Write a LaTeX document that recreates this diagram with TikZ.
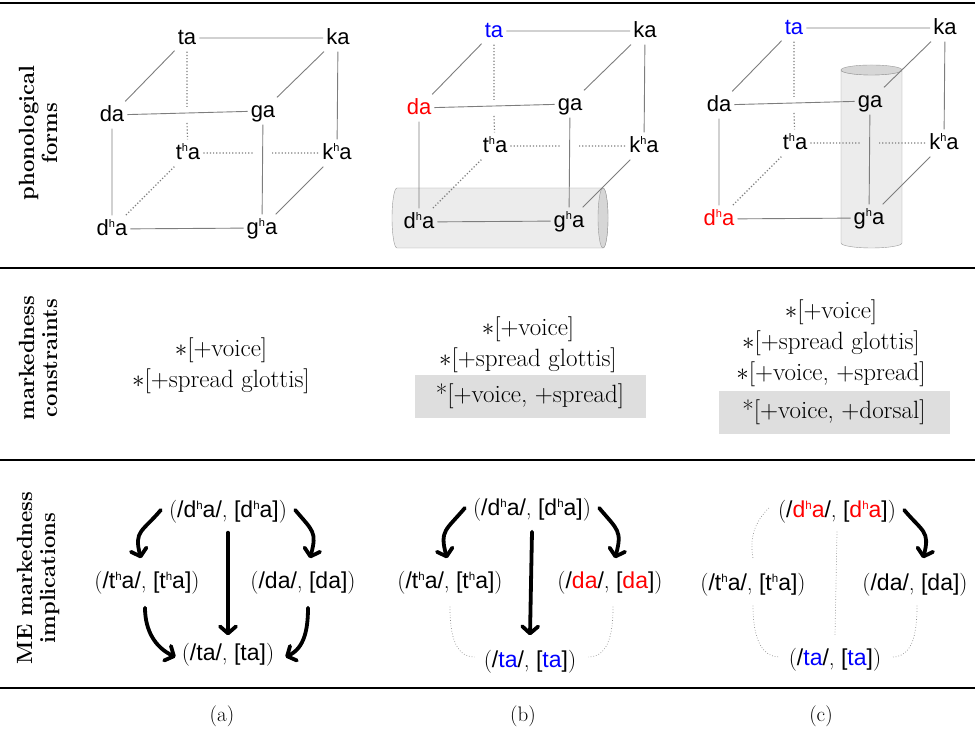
\documentclass[tikz,border=0pt]{standalone}
\usepackage{amsmath}
\usepackage{fontspec}
\newfontfamily\sans{Liberation Sans}
\usepackage{xcolor}
\usepackage{tikz}
\usetikzlibrary{arrows.meta,positioning,calc,backgrounds}
\definecolor{EdgeGray}{RGB}{125,125,125}
\definecolor{CylBody}{RGB}{236,236,236}
\definecolor{CylEnd}{RGB}{214,214,214}
\definecolor{BoxGray}{RGB}{222,222,222}
\newcommand{\asp}{\raisebox{0.36em}{\scalebox{0.5}{h}}}
\newcommand{\pr}[2]{{\rmfamily(}/#1/{\rmfamily,} [#2]{\rmfamily)}}

\begin{document}
\begin{tikzpicture}[x=1pt,y=1pt,
  form/.style={font=\sans\fontsize{22}{26}\selectfont,inner sep=3pt,text height=16.5pt,text depth=4.4pt},
  cubeline/.style={EdgeGray,line width=0.9pt},
  cubehid/.style={EdgeGray,dotted,line width=1.2pt},
  imp/.style={font=\sans\fontsize{23}{27}\selectfont,inner sep=3pt},
  arr/.style={line width=3.8pt,line cap=round,-{Straight Barb[round,length=7pt,width=16pt]}},
  faint/.style={black!45,dotted,line width=0.7pt},
  cons/.style={align=center,font=\fontsize{25}{31}\selectfont},
  conbox/.style={fill=BoxGray,minimum width=231pt,minimum height=43pt,inner sep=0pt,font=\fontsize{25}{31}\selectfont},
  rowlab/.style={rotate=90,align=center,font=\bfseries\fontsize{22}{23}\selectfont},
  tagnode/.style={font=\fontsize{21}{25}\selectfont}]
\useasboundingbox (0,0) rectangle (975,735);
% rules
\draw[line width=2.4pt](0,732)--(975,732);
\draw[line width=1.2pt](0,467)--(975,467);
\draw[line width=1.2pt](0,275)--(975,275);
\draw[line width=2.4pt](0,47)--(975,47);
% row labels
\node[rowlab] (rowform) at (38,602) {phonological\\forms};
\node[rowlab] (rowcons) at (38,377) {markedness\\constraints};
\node[rowlab] (rowimp) at (38,157) {ME markedness\\implications};
% cylinders
\begin{scope}[on background layer]
\draw[draw=black!40,fill=CylBody](603,547)--(397,547) arc[start angle=90,end angle=270,x radius=5,y radius=30]
  --(603,487) arc[start angle=-90,end angle=90,x radius=5,y radius=30]--cycle;
\draw[draw=black!40,fill=CylEnd](603,517) ellipse[x radius=5,y radius=30];
\draw[draw=black!40,fill=CylBody](841,665)--(841,492) arc[start angle=180,end angle=360,x radius=30.5,y radius=5]
  --(902,665) arc[start angle=0,end angle=-180,x radius=30.5,y radius=5]--cycle;
\draw[draw=black!40,fill=CylEnd](871.5,665) ellipse[x radius=30.5,y radius=5];
\end{scope}
% cubes
\foreach \p/\dx/\dy/\cta/\cda/\cdh in {a/0/0/black/black/black,b/307/7/blue/red/black,c/607/10/blue/black/red}{
  \begin{scope}[shift={(\dx,\dy)}]
  \node[form,text=\cta] (ta\p) at (187,697) {ta};
  \node[form] (ka\p) at (338,697) {ka};
  \node[form,text=\cda] (da\p) at (112,620) {da};
  \node[form] (ga\p) at (263,624) {ga};
  \node[form] (tha\p) at (188,582) {t\asp a};
  \node[form] (kha\p) at (337,582) {k\asp a};
  \node[form,text=\cdh] (dha\p) at (112,506) {d\asp a};
  \node[form] (gha\p) at (262,507) {g\asp a};
  \draw[cubeline](ta\p)--(ka\p) (ta\p)--(da\p) (ka\p)--(ga\p) (ka\p)--(kha\p)
    (da\p)--(ga\p) (da\p)--(dha\p) (ga\p)--(gha\p) (dha\p)--(gha\p) (gha\p)--(kha\p);
  \draw[cubehid](ta\p)--($(ta\p |- da\p)+(0,8)$) ($(ta\p |- da\p)+(0,-8)$)--(tha\p)
    (tha\p)--($(ga\p |- tha\p)+(-9,0)$) ($(ga\p |- tha\p)+(9,0)$)--(kha\p)
    (tha\p)--(dha\p);
  \end{scope}
}
% constraints
\node[cons] (consA) at (221,369) {$\ast$[$+$voice]\\$\ast$[$+$spread glottis]};
\node[cons] (consB) at (528,390) {$\ast$[$+$voice]\\$\ast$[$+$spread glottis]};
\node[conbox] (boxB) at (530,338.5) {*[+voice, +spread]};
\node[cons] (consC) at (831,392) {$\ast$[$+$voice]\\$\ast$[$+$spread glottis]\\$\ast$[$+$voice, $+$spread]};
\node[conbox] (boxC) at (834,322.5) {*[+voice, +dorsal]};
% implications (a)
\node[imp] (topA) at (228,223) {\pr{d\asp a}{d\asp a}};
\node[imp] (thaA) at (147,152) {\pr{t\asp a}{t\asp a}};
\node[imp] (daA) at (303,152) {\pr{da}{da}};
\node[imp] (taA) at (228,80) {\pr{ta}{ta}};
\draw[arr]([shift={(-5,2)}]topA.west) to[out=230,in=105,looseness=1.4] ([shift={(-6,10)}]thaA.north);
\draw[arr]([shift={(5,2)}]topA.east) to[out=-50,in=75,looseness=1.4] ([shift={(7,10)}]daA.north);
\draw[arr]([yshift=-6]topA.south)--([yshift=5]taA.north);
\draw[arr]([shift={(-2,-10)}]thaA.south) to[out=-90,in=155] ([shift={(-3,-2)}]taA.west);
\draw[arr]([shift={(5,-10)}]daA.south) to[out=-90,in=25] ([shift={(8,-2)}]taA.east);
% implications (b)
\node[imp] (topB) at (532,225) {\pr{d\asp a}{d\asp a}};
\node[imp] (thaB) at (450,152) {\pr{t\asp a}{t\asp a}};
\node[imp] (daB) at (610,152) {\pr{\textcolor{red}{da}}{\textcolor{red}{da}}};
\node[imp] (taB) at (530,73) {\pr{\textcolor{blue}{ta}}{\textcolor{blue}{ta}}};
\draw[arr]([shift={(-5,2)}]topB.west) to[out=230,in=105,looseness=1.4] ([shift={(-3,10)}]thaB.north);
\draw[arr]([shift={(5,2)}]topB.east) to[out=-50,in=75,looseness=1.4] ([shift={(5,10)}]daB.north);
\draw[arr]([yshift=-7]topB.south)--([yshift=12]taB.north);
\draw[faint]([shift={(0,-9)}]thaB.south) to[out=-90,in=180] ([shift={(-6,5)}]taB.west);
\draw[faint]([shift={(3,-9)}]daB.south) to[out=-90,in=0] ([shift={(9,5)}]taB.east);
% implications (c)
\node[imp] (topC) at (837,223) {\pr{\textcolor{red}{d\asp a}}{\textcolor{red}{d\asp a}}};
\node[imp] (thaC) at (753,150) {\pr{t\asp a}{t\asp a}};
\node[imp] (daC) at (915,150) {\pr{da}{da}};
\node[imp] (taC) at (835,75) {\pr{\textcolor{blue}{ta}}{\textcolor{blue}{ta}}};
\draw[arr]([shift={(5,2)}]topC.east) to[out=-50,in=75,looseness=1.4] ([shift={(8,12)}]daC.north);
\draw[faint]([shift={(-6,4)}]topC.west) to[out=225,in=100] ([shift={(0,12)}]thaC.north);
\draw[faint]([yshift=-5]topC.south)--([yshift=10]taC.north);
\draw[faint]([shift={(0,-6)}]thaC.south) to[out=-90,in=180] ([shift={(-6,3)}]taC.west);
\draw[faint]([shift={(2,-6)}]daC.south) to[out=-90,in=0] ([shift={(8,3)}]taC.east);
% panel tags
\node[tagnode] (tagA) at (222,19) {(a)};
\node[tagnode] (tagB) at (523,19) {(b)};
\node[tagnode] (tagC) at (821,19) {(c)};
\end{tikzpicture}
\end{document}
